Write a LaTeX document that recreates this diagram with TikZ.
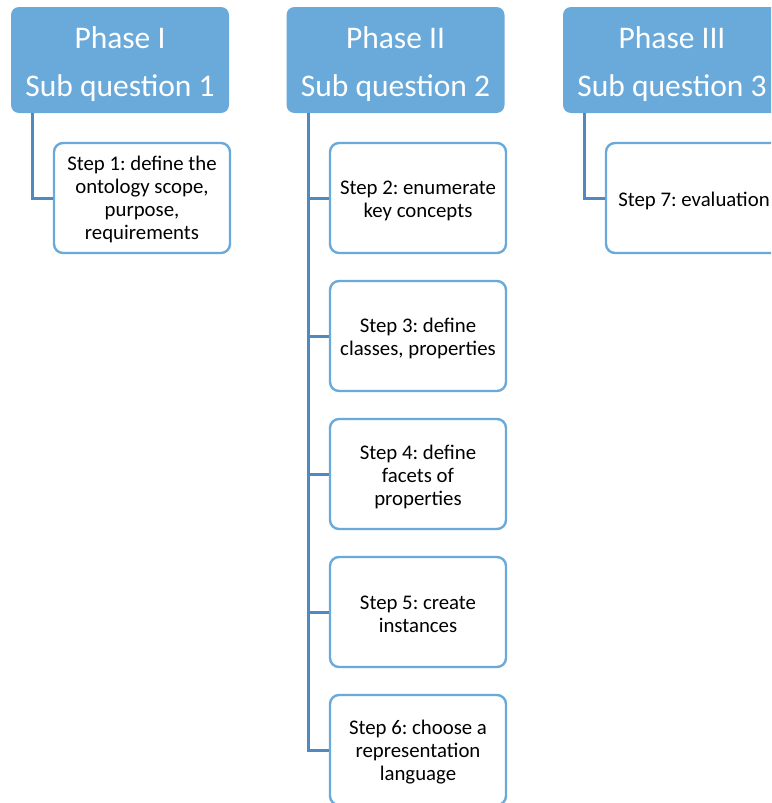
\documentclass[tikz,border=0pt]{standalone}
\usepackage{fontspec}
\setmainfont{Carlito}
\frenchspacing
\definecolor{phasefill}{HTML}{6AAADB}
\definecolor{stepline}{HTML}{6AAADB}
\definecolor{linkcol}{HTML}{5088C0}
\tikzset{
  phasebox/.style={draw=none, fill=phasefill, rounded corners=8pt,
    minimum width=218pt, minimum height=106pt, inner sep=0pt},
  phasetext/.style={text=white, align=center, inner sep=0pt,
    font=\fontsize{31.5}{48}\selectfont},
  stepbox/.style={draw=stepline, line width=2.4pt, fill=white, rounded corners=9pt,
    minimum width=176pt, minimum height=110pt, inner sep=0pt},
  steptext/.style={text=black, align=center, inner sep=0pt,
    font=\fontsize{20.8}{23}\selectfont},
  link/.style={draw=linkcol, line width=3pt}
}
\begin{document}
\begin{tikzpicture}[x=1pt, y=-1pt]
\useasboundingbox (0,0) rectangle (771,803);
\begin{scope}
\clip (0,0) rectangle (771,803);
% phase headers
\node[phasebox] (p1) at (120,60) {};
\node[phasebox] (p2) at (395.5,60) {};
\node[phasebox] (p3) at (672,60) {};
\node[phasetext] (p1t) at (120,64) {Phase I\\Sub question 1};
\node[phasetext] (p2t) at (395.5,64) {Phase II\\Sub question 2};
\node[phasetext] (p3t) at (672,64) {Phase III\\Sub question 3};
% tree spines
\coordinate (t1) at (32,113);
\coordinate (t2) at (308,113);
\coordinate (t3) at (584,113);
% step boxes
\node[stepbox] (s1) at (142,198) {};
\node[stepbox] (s2) at (418,198) {};
\node[stepbox] (s3) at (418,336) {};
\node[stepbox] (s4) at (418,474) {};
\node[stepbox] (s5) at (418,612) {};
\node[stepbox] (s6) at (418,750) {};
\node[stepbox] (s7) at (694,198) {};
% step labels
\node[steptext] (s1t) at (142,199) {Step 1: define the\\ontology scope,\\purpose,\\requirements};
\node[steptext] (s2t) at (418,200.5) {Step 2: enumerate\\key concepts};
\node[steptext] (s3t) at (418,338.5) {Step 3: define\\classes, properties};
\node[steptext] (s4t) at (418,476.5) {Step 4: define\\facets of\\properties};
\node[steptext] (s5t) at (418,614.5) {Step 5: create\\instances};
\node[steptext] (s6t) at (418,752.5) {Step 6: choose a\\representation\\language};
\node[steptext] (s7t) at (694,200.5) {Step 7: evaluation};
% connectors
\draw[link] (t1) |- (s1.west);
\draw[link] (t2) |- (s6.west);
\foreach \s in {s2,s3,s4,s5} \draw[link] (t2 |- \s.west) -- (\s.west);
\draw[link] (t3) |- (s7.west);
\end{scope}
\end{tikzpicture}
\end{document}
